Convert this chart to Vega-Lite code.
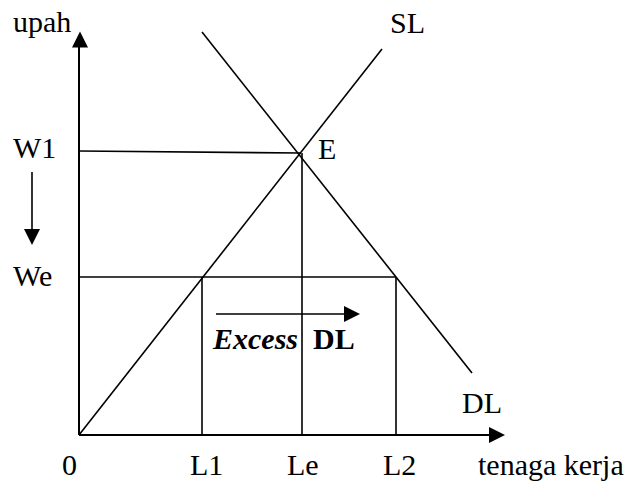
{
  "$schema": "https://vega.github.io/schema/vega-lite/v6.json",
  "width": 636,
  "height": 484,
  "autosize": {"type": "none"},
  "padding": 0,
  "background": "white",
  "config": {"view": {"stroke": null}},
  "datasets": {
    "segments": [
      {"seg": "axis-y", "group": "axis", "x": 0, "y": 0, "x2": 0, "y2": 39.5},
      {"seg": "axis-x", "group": "axis", "x": 0, "y": 0, "x2": 41.8, "y2": 0},
      {"seg": "W1", "group": "line", "x": 0, "y": 28.4, "x2": 22.2, "y2": 28.2},
      {"seg": "We", "group": "line", "x": 0, "y": 15.8, "x2": 31.7, "y2": 15.8},
      {"seg": "L1", "group": "line", "x": 12.3, "y": 0, "x2": 12.3, "y2": 15.8},
      {"seg": "Le", "group": "line", "x": 22.3, "y": 0, "x2": 22.3, "y2": 28.2},
      {"seg": "L2", "group": "line", "x": 31.7, "y": 0, "x2": 31.7, "y2": 15.8},
      {"seg": "SL", "group": "line", "x": 0, "y": 0, "x2": 30.3, "y2": 38.6},
      {"seg": "DL", "group": "line", "x": 12.3, "y": 40.3, "x2": 39.3, "y2": 6.2},
      {"seg": "excess", "group": "line", "x": 13.7, "y": 12.1, "x2": 27.3, "y2": 12.1},
      {"seg": "down", "group": "line", "x": -4.7, "y": 26.3, "x2": -4.7, "y2": 19.8}
    ],
    "heads": [
      {"dir": "up", "x": 0.1, "y": 39.55},
      {"dir": "right", "x": 41.8, "y": 0},
      {"dir": "down", "x": -4.7, "y": 19.8},
      {"dir": "right", "x": 27.3, "y": 12.1}
    ],
    "labels": [
      {"label": "upah", "x": -6.6, "y": 40.3},
      {"label": "SL", "x": 31.1, "y": 40.2},
      {"label": "E", "x": 23.9, "y": 27.6},
      {"label": "W1", "x": -6.6, "y": 27.7},
      {"label": "We", "x": -6.6, "y": 14.9},
      {"label": "0", "x": -1.7, "y": -4.0},
      {"label": "L1", "x": 11.1, "y": -4.0},
      {"label": "Le", "x": 20.8, "y": -4.0},
      {"label": "L2", "x": 30.4, "y": -4.0},
      {"label": "DL", "x": 38.3, "y": 2.2},
      {"label": "tenaga kerja", "x": 39.9, "y": -4.0}
    ],
    "excessText": [
      {"label": "Excess", "style": "bolditalic", "x": 13.4, "y": 8.6},
      {"label": "DL", "style": "bold", "x": 23.4, "y": 8.6}
    ]
  },
  "encoding": {
    "x": {"field": "x", "type": "quantitative", "axis": null, "scale": {"domain": [-7.9, 55.7], "nice": false, "zero": false}},
    "y": {"field": "y", "type": "quantitative", "axis": null, "scale": {"domain": [-4.9, 43.5], "nice": false, "zero": false}}
  },
  "layer": [
    {
      "data": {"name": "segments"},
      "transform": [{"filter": "datum.group === 'axis'"}],
      "mark": {"type": "rule", "color": "black", "strokeWidth": 2},
      "encoding": {"x2": {"field": "x2"}, "y2": {"field": "y2"}}
    },
    {
      "data": {"name": "segments"},
      "transform": [{"filter": "datum.group === 'line'"}],
      "mark": {"type": "rule", "color": "black", "strokeWidth": 1.6},
      "encoding": {"x2": {"field": "x2"}, "y2": {"field": "y2"}}
    },
    {
      "data": {"name": "heads"},
      "mark": {"type": "point", "filled": true, "color": "black", "opacity": 1, "strokeWidth": 0, "size": 256},
      "encoding": {
        "shape": {
          "field": "dir",
          "type": "nominal",
          "legend": null,
          "scale": {
            "domain": ["up", "right", "down"],
            "range": ["M-1,1L1,1L0,-1Z", "M-1,-1L-1,1L1,0Z", "M-1,-1L1,-1L0,1Z"]
          }
        }
      }
    },
    {
      "data": {"name": "labels"},
      "mark": {"type": "text", "font": "Liberation Serif", "fontSize": 30, "align": "left", "baseline": "alphabetic", "color": "black"},
      "encoding": {"text": {"field": "label"}}
    },
    {
      "data": {"name": "excessText"},
      "transform": [{"filter": "datum.style === 'bolditalic'"}],
      "mark": {"type": "text", "font": "Liberation Serif", "fontSize": 30, "fontWeight": "bold", "fontStyle": "italic", "align": "left", "baseline": "alphabetic", "color": "black"},
      "encoding": {"text": {"field": "label"}}
    },
    {
      "data": {"name": "excessText"},
      "transform": [{"filter": "datum.style === 'bold'"}],
      "mark": {"type": "text", "font": "Liberation Serif", "fontSize": 30, "fontWeight": "bold", "align": "left", "baseline": "alphabetic", "color": "black"},
      "encoding": {"text": {"field": "label"}}
    }
  ]
}
